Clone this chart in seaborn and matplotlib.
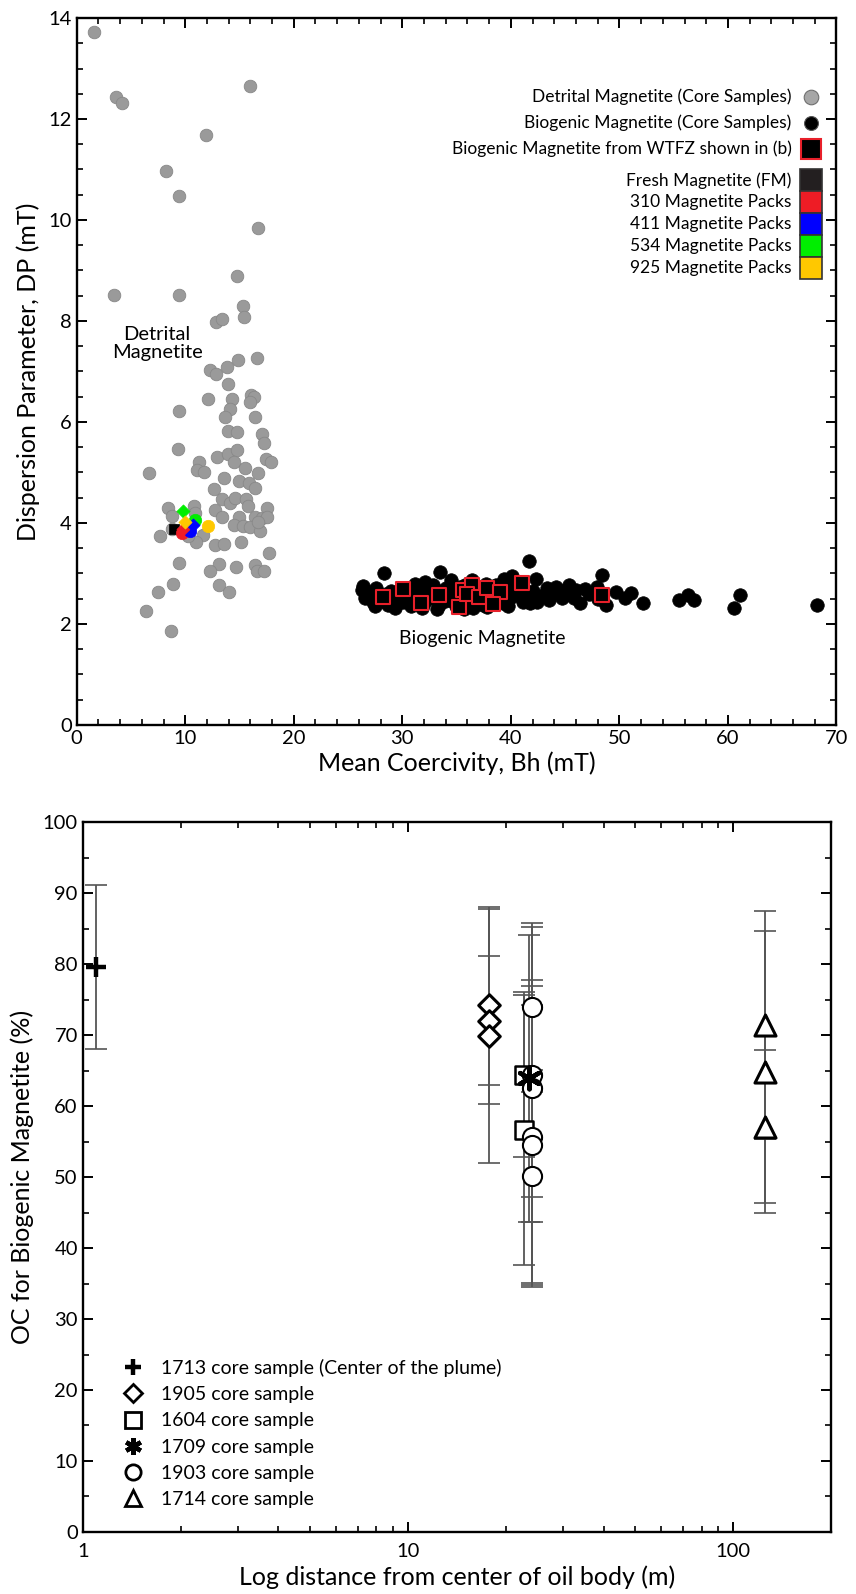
import numpy as np
import pandas as pd
import matplotlib
matplotlib.use("Agg")
import matplotlib.pyplot as plt
import seaborn as sns
from matplotlib.patches import Rectangle
from matplotlib.lines import Line2D
from matplotlib.ticker import MultipleLocator, LogLocator, NullFormatter

# ---------------- data: panel (a) ----------------
det_x = [1.62, 3.65, 4.2, 15.93, 11.9, 8.22, 9.42, 16.67, 14.76, 3.46, 9.45, 15.31, 15.43, 12.86, 13.41,
         14.85, 16.57, 12.27, 12.83, 13.81, 13.96, 12.09, 16.1, 16.3, 16.0, 14.33, 14.09, 9.42, 13.63, 16.42,
         13.96, 14.73, 17.09, 17.28, 9.33, 12.95, 13.96, 14.73, 14.48, 11.29, 11.11, 11.69, 15.47, 16.69, 17.4,
         17.89, 6.66, 13.56, 14.97, 15.87, 16.42, 12.67, 13.35, 14.12, 14.58, 15.59, 15.8, 17.55, 8.38, 10.83,
         12.73, 8.75, 13.35, 14.97, 16.42, 17.04, 17.5, 14.51, 15.34, 15.93, 16.91, 8.75, 7.64, 11.66, 10.96,
         12.73, 13.56, 15.16, 17.73, 9.45, 13.1, 14.67, 16.42, 16.57, 17.28, 12.27, 8.84, 13.13, 14.02, 7.46,
         6.35, 8.71, 10.3, 10.9, 16.7]
det_y = [13.72, 12.44, 12.31, 12.65, 11.68, 10.97, 10.48, 9.85, 8.90, 8.51, 8.51, 8.30, 8.07, 7.98, 8.03,
         7.23, 7.26, 7.03, 6.95, 7.08, 6.75, 6.46, 6.53, 6.49, 6.39, 6.45, 6.25, 6.22, 6.10, 6.10,
         5.83, 5.81, 5.76, 5.59, 5.47, 5.31, 5.37, 5.45, 5.21, 5.21, 5.04, 5.01, 5.08, 4.99, 5.26,
         5.20, 4.98, 4.90, 4.84, 4.80, 4.69, 4.67, 4.47, 4.40, 4.50, 4.47, 4.34, 4.29, 4.30, 4.33,
         4.26, 4.13, 4.11, 4.11, 4.12, 4.09, 4.12, 3.96, 3.94, 3.92, 3.85, 3.89, 3.74, 3.76, 3.63,
         3.56, 3.58, 3.63, 3.40, 3.20, 3.19, 3.13, 3.16, 3.04, 3.04, 3.04, 2.79, 2.78, 2.64, 2.64,
         2.26, 1.86, 3.75, 4.20, 4.02]

bio_x = [41.68, 28.3, 33.45, 48.4, 26.4, 27.6, 31.2, 32.1, 32.8, 34.5, 35.3, 36.4, 37.75, 39.4, 40.1,
         42.3, 43.3, 44.2, 45.4, 46.0, 47.9, 49.7, 51.1, 26.55, 27.3, 28.7, 29.3, 30.1, 31.0, 32.53,
         33.4, 34.4, 36.5, 37.4, 39.9, 41.1, 41.74, 42.4, 44.7, 46.35, 48.8, 50.5, 52.2, 55.5, 56.3,
         56.9, 60.6, 61.1, 68.2,
         26.8, 27.0, 27.9, 28.0, 28.9, 29.0, 29.6, 29.8, 30.5, 30.8, 31.5, 31.6, 32.0, 32.3, 33.0,
         33.7, 33.9, 34.2, 34.9, 35.0, 35.5, 35.8, 36.0, 36.8, 37.0, 37.3, 38.0, 38.3, 38.6, 39.0,
         39.3, 40.0, 40.5, 40.8, 42.0, 42.8, 43.8, 45.0, 45.8, 47.2, 48.0, 26.3, 27.5, 28.5, 30.0,
         31.8, 33.2, 34.0, 35.7, 37.8, 38.8, 39.7, 41.5, 43.5, 44.5, 46.8]
bio_y = [3.25, 3.00, 3.02, 2.97, 2.76, 2.71, 2.80, 2.84, 2.77, 2.87, 2.74, 2.87, 2.80, 2.90, 2.94,
         2.89, 2.71, 2.74, 2.77, 2.67, 2.74, 2.64, 2.61, 2.51, 2.44, 2.38, 2.31, 2.44, 2.47, 2.51,
         2.38, 2.47, 2.31, 2.38, 2.51, 2.44, 2.41, 2.44, 2.51, 2.41, 2.38, 2.51, 2.41, 2.47, 2.57,
         2.47, 2.31, 2.57, 2.38,
         2.62, 2.55, 2.58, 2.45, 2.52, 2.65, 2.45, 2.58, 2.62, 2.35, 2.58, 2.70, 2.42, 2.64, 2.55,
         2.66, 2.45, 2.58, 2.36, 2.66, 2.52, 2.78, 2.42, 2.60, 2.48, 2.70, 2.57, 2.44, 2.78, 2.62,
         2.42, 2.70, 2.58, 2.84, 2.65, 2.55, 2.62, 2.58, 2.52, 2.60, 2.50, 2.68, 2.35, 2.60, 2.70,
         2.32, 2.30, 2.72, 2.30, 2.34, 2.68, 2.35, 2.62, 2.47, 2.65, 2.70]

wtfz_x = [28.2, 30.1, 31.7, 33.4, 35.2, 35.6, 36.4, 36.0, 37.1, 37.8, 39.0, 38.4, 41.07, 48.4]
wtfz_y = [2.54, 2.69, 2.41, 2.57, 2.34, 2.67, 2.77, 2.59, 2.54, 2.71, 2.63, 2.40, 2.82, 2.57]

fm_x, fm_y = [8.96], [3.89]
pack_names = ["310 Magnetite Packs", "411 Magnetite Packs", "534 Magnetite Packs", "925 Magnetite Packs"]
pack_colors = ["#ee1c25", "#0000ff", "#00ee00", "#ffc800"]
pack_circle_x = [9.73, 10.46, 10.9, 12.12]
pack_circle_y = [3.81, 3.84, 4.06, 3.94]
pack_diam_x = [9.8, 10.74, 9.79, 9.97]
pack_diam_y = [3.88, 3.96, 4.23, 4.01]

# ---------------- data: panel (b) ----------------
samples = ["1713 core sample (Center of the plume)", "1905 core sample", "1604 core sample",
           "1709 core sample", "1903 core sample", "1714 core sample"]
s1713_x, s1713_y, s1713_e = [1.1], [79.6], [11.5]
s1905_x, s1905_y, s1905_e = [17.8, 17.8, 17.8], [74.2, 72.0, 69.9], [13.9, 9.1, 17.9]
s1604_x, s1604_y, s1604_e = [22.8, 22.8], [64.4, 56.6], [11.6, 19.0]
s1709_x, s1709_y, s1709_e = [23.5], [63.9], [20.2]
s1903_x = [24.1, 24.1, 24.1, 24.1, 24.1, 24.1]
s1903_y = [73.9, 64.4, 62.5, 55.7, 54.5, 50.1]
s1903_e = [11.9, 20.8, 15.3, 21.2, 19.7, 15.0]
s1714_x, s1714_y, s1714_e = [125.7, 125.7, 125.7], [71.4, 64.8, 57.1], [16.0, 19.8, 10.8]

# ---------------- style ----------------
sns.set_style("ticks")
plt.rcParams['font.family'] = ['Lato', 'DejaVu Sans']
plt.rcParams.update({
    'xtick.direction': 'in', 'ytick.direction': 'in',
    'xtick.top': True, 'ytick.right': True,
    'axes.linewidth': 1.7, 'axes.edgecolor': 'black',
    'xtick.color': 'black', 'ytick.color': 'black',
    'xtick.major.size': 7, 'ytick.major.size': 7,
    'xtick.minor.size': 4, 'ytick.minor.size': 4,
    'xtick.major.width': 1.4, 'ytick.major.width': 1.4,
    'xtick.minor.width': 1.2, 'ytick.minor.width': 1.2,
    'xtick.labelsize': 14.5, 'ytick.labelsize': 14.5,
    'axes.labelsize': 18, 'text.color': 'black', 'axes.labelcolor': 'black',
})

fig = plt.figure(figsize=(8.56, 15.94), dpi=100)
ax1 = fig.add_axes([0.0896, 0.5452, 0.8876, 0.4435])
ax2 = fig.add_axes([0.0966, 0.0389, 0.8742, 0.4454])

# ---------------- panel (a) ----------------
sns.scatterplot(x=det_x, y=det_y, ax=ax1, color="#9a9a9a", edgecolor="#888888", linewidth=0.6, s=82, zorder=2)
sns.scatterplot(x=bio_x, y=bio_y, ax=ax1, color="black", edgecolor="black", linewidth=0.5, s=95, zorder=2)
sns.scatterplot(x=wtfz_x, y=wtfz_y, ax=ax1, marker="s", color="black", edgecolor="#e8202a", linewidth=1.5, s=88, zorder=3)
sns.scatterplot(x=fm_x, y=fm_y, ax=ax1, marker="s", color="black", edgecolor="black", linewidth=0.5, s=55, zorder=4)
for i in range(4):
    sns.scatterplot(x=[pack_circle_x[i]], y=[pack_circle_y[i]], ax=ax1, color=pack_colors[i],
                    edgecolor=pack_colors[i], linewidth=0.5, s=80, zorder=4 + i)
for i in [0, 1, 2, 3]:
    sns.scatterplot(x=[pack_diam_x[i]], y=[pack_diam_y[i]], ax=ax1, marker="D", color=pack_colors[i],
                    edgecolor=pack_colors[i], linewidth=0.5, s=45, zorder=9 + i)

ax1.set_xlim(0, 70)
ax1.set_ylim(0, 14)
ax1.xaxis.set_major_locator(MultipleLocator(10))
ax1.xaxis.set_minor_locator(MultipleLocator(2))
ax1.yaxis.set_major_locator(MultipleLocator(2))
ax1.yaxis.set_minor_locator(MultipleLocator(0.5))
ax1.set_xlabel("Mean Coercivity, Bh (mT)", labelpad=3)
ax1.set_ylabel("Dispersion Parameter, DP (mT)", labelpad=6)
for sp in ax1.spines.values():
    sp.set_visible(True)

ax1.text(7.4, 7.56, "Detrital\nMagnetite", ha="center", va="center", fontsize=14.5, linespacing=1.05)
ax1.text(37.4, 1.72, "Biogenic Magnetite", ha="center", va="center", fontsize=14)

# legend (a) drawn by hand
tx, mx = 0.941, 0.9665
leg_rows = [("Detrital Magnetite (Core Samples)", 0.8889),
            ("Biogenic Magnetite (Core Samples)", 0.8521),
            ("Biogenic Magnetite from WTFZ shown in (b)", 0.8149)]
for lab, yy in leg_rows:
    ax1.text(tx, yy, lab, transform=ax1.transAxes, ha="right", va="center", fontsize=12.5)
ax1.plot([mx], [0.8889], transform=ax1.transAxes, marker="o", ms=10.5, mfc="#a6a6a6", mec="#6f6f6f", mew=0.8, ls="none", clip_on=False)
ax1.plot([mx], [0.8521], transform=ax1.transAxes, marker="o", ms=10, mfc="black", mec="#555555", mew=0.8, ls="none", clip_on=False)
ax1.plot([mx], [0.8149], transform=ax1.transAxes, marker="s", ms=14.5, mfc="black", mec="#e8202a", mew=1.5, ls="none", clip_on=False)

box_names = ["Fresh Magnetite (FM)"] + pack_names
box_colors = ["#231f20"] + pack_colors
bx0, bw, bh, btop = 0.9519, 0.0286, 0.0311, 0.786
for i, (nm, col) in enumerate(zip(box_names, box_colors)):
    yb = btop - (i + 1) * bh
    ax1.add_patch(Rectangle((bx0, yb), bw, bh, transform=ax1.transAxes, facecolor=col,
                            edgecolor="#333333", linewidth=1.2))
    ax1.text(tx, yb + bh * 0.5, nm, transform=ax1.transAxes, ha="right", va="center", fontsize=12.5)

# ---------------- panel (b) ----------------
groups = [
    (s1713_x, s1713_y, s1713_e, "+", 200, 3.2),
    (s1905_x, s1905_y, s1905_e, "D", 120, 2.2),
    (s1604_x, s1604_y, s1604_e, "s", 170, 1.8),
    (s1709_x, s1709_y, s1709_e, (6, 2, 0), 240, 3.2),
    (s1903_x, s1903_y, s1903_e, "o", 190, 1.5),
    (s1714_x, s1714_y, s1714_e, "^", 230, 2.2),
]
for gx, gy, ge, mk, sz, lw in groups:
    ax2.errorbar(gx, gy, yerr=ge, fmt="none", ecolor="#555555", elinewidth=1.3, capsize=8, capthick=1.2, zorder=2)
for gx, gy, ge, mk, sz, lw in groups:
    if mk in ("+",) or isinstance(mk, tuple):
        sns.scatterplot(x=gx, y=gy, ax=ax2, marker=mk, color="black", s=sz, linewidth=lw, zorder=5)
    else:
        sns.scatterplot(x=gx, y=gy, ax=ax2, marker=mk, color="white", edgecolor="black", s=sz, linewidth=lw, zorder=4)

ax2.set_xscale("log")
ax2.set_xlim(1, 200)
ax2.set_ylim(0, 100)
ax2.set_xticks([1, 10, 100])
ax2.set_xticklabels(["1", "10", "100"])
ax2.xaxis.set_minor_locator(LogLocator(base=10, subs=np.arange(2, 10)))
ax2.xaxis.set_minor_formatter(NullFormatter())
ax2.yaxis.set_major_locator(MultipleLocator(10))
ax2.yaxis.set_minor_locator(MultipleLocator(5))
ax2.set_xlabel("Log distance from center of oil body (m)", labelpad=4)
ax2.set_ylabel("OC for Biogenic Magnetite (%)", labelpad=6)
ax2.tick_params(axis="x", which="major", pad=8)

handles = []
for (gx, gy, ge, mk, sz, lw), lab in zip(groups, samples):
    if mk == "+" or isinstance(mk, tuple):
        h = Line2D([], [], ls="none", marker=mk, ms=12, color="black", mew=lw)
    else:
        h = Line2D([], [], ls="none", marker=mk, ms=11 if mk != "D" else 9.5, mfc="white", mec="black", mew=2)
    handles.append(h)
ax2.legend(handles, samples, loc="lower left", bbox_to_anchor=(0.052, 0.034), frameon=False,
           fontsize=14, handlelength=1.2, handletextpad=0.85, labelspacing=0.47, borderaxespad=0,
           borderpad=0)

fig.savefig("out.png", dpi=100)
